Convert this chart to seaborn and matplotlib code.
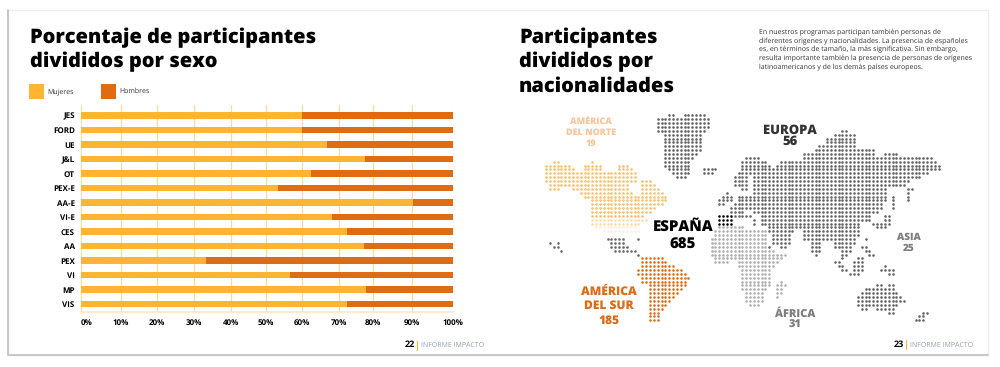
import matplotlib
matplotlib.use('Agg')
import matplotlib.pyplot as plt
from matplotlib import font_manager as fm
from matplotlib.patches import Rectangle
import pandas as pd
import seaborn as sns

# bars
programas = ['JES', 'FORD', 'UE', 'J&L', 'OT', 'PEX-E', 'AA-E', 'VI-E', 'CES', 'AA', 'PEX', 'VI', 'MP', 'VIS']
mujeres = [59.3, 59.3, 66.1, 76.4, 61.7, 53.0, 89.2, 67.5, 71.6, 76.0, 33.5, 56.3, 76.6, 71.5]
hombres = [100 - m for m in mujeres]
tick_labels = ['0%', '10%', '20%', '30%', '40%', '50%', '60%', '70%', '80%', '90%', '100%']
# the printed gridlines are not evenly spaced
tick_values = [0, 10.8, 20.5, 30.4, 40.2, 49.7, 59.3, 69.4, 78.5, 89.0, 100]

# dot map, each run is (row, first column, last column) on the dot grid
groenlandia = [(0, 32, 33), (0, 36, 41), (1, 29, 42), (2, 29, 42), (3, 29, 42), (4, 29, 41), (5, 31, 40), (6, 31, 40),
               (7, 31, 40), (8, 31, 40), (9, 31, 40), (10, 31, 39), (11, 31, 38), (12, 31, 37), (13, 31, 37),
               (14, 32, 37), (14, 41, 44), (15, 33, 37), (15, 41, 43), (16, 34, 36)]
norte = [(12, 2, 3), (12, 12, 12), (13, 0, 6), (13, 10, 14), (13, 19, 21), (14, 0, 7), (14, 10, 14), (14, 19, 22),
         (15, 0, 23), (16, 0, 23), (17, 0, 23), (17, 25, 27), (18, 1, 21), (18, 25, 28), (19, 1, 3), (19, 7, 21),
         (19, 25, 29), (20, 9, 22), (20, 25, 30), (21, 10, 31), (22, 12, 31), (23, 12, 30), (24, 12, 28),
         (25, 12, 27), (26, 12, 25)]
norte_claro = [(27, 12, 26), (28, 12, 24)]
norte_palido = [(29, 13, 23), (30, 15, 24)]
centro = [(32, 16, 20), (32, 24, 24), (33, 17, 20), (34, 17, 21), (35, 18, 23), (36, 24, 24),
          (33, 1, 1), (33, 3, 3), (34, 2, 3), (35, 4, 4)]
sur = [(37, 25, 30), (38, 25, 31), (39, 25, 33), (40, 24, 35), (41, 24, 36), (42, 25, 37), (43, 25, 36), (44, 27, 36),
       (45, 27, 35), (46, 27, 34), (47, 27, 33), (48, 27, 32), (49, 27, 31), (50, 27, 30), (51, 27, 29), (52, 27, 29),
       (53, 27, 29)]
espana = [(26, 45, 48), (27, 45, 48), (28, 45, 48)]
eurasia = [(4, 77, 78), (5, 75, 80), (6, 73, 80), (7, 73, 80), (8, 71, 80), (9, 70, 85), (10, 67, 85), (10, 88, 91),
           (11, 52, 55), (11, 67, 85), (11, 86, 100), (12, 51, 57), (12, 61, 101), (13, 51, 58), (13, 60, 102),
           (14, 51, 59), (14, 60, 102), (15, 50, 53), (15, 54, 59), (15, 60, 99), (16, 49, 52), (16, 54, 97),
           (17, 49, 52), (17, 54, 94), (18, 49, 52), (18, 54, 93), (19, 51, 52), (19, 54, 88), (19, 94, 95),
           (20, 47, 47), (20, 54, 88), (20, 94, 94), (21, 46, 48), (21, 50, 88), (21, 90, 90), (21, 94, 94),
           (22, 45, 48), (22, 50, 88), (22, 90, 90), (22, 94, 94), (23, 45, 46), (23, 49, 87), (23, 90, 90),
           (24, 48, 87), (24, 90, 90), (25, 48, 51), (25, 54, 85), (25, 86, 86), (26, 49, 53), (26, 56, 84),
           (26, 88, 89), (27, 54, 54), (27, 56, 84), (27, 88, 89), (28, 54, 54), (28, 56, 81), (28, 85, 89),
           (29, 58, 81), (29, 86, 88), (30, 58, 64), (30, 67, 81), (31, 59, 63), (31, 67, 81), (32, 59, 63),
           (32, 67, 74), (32, 75, 80), (32, 83, 83), (33, 59, 63), (33, 69, 71), (33, 75, 80), (34, 58, 58),
           (34, 61, 62), (34, 69, 71), (34, 75, 79), (34, 82, 83), (35, 69, 71), (35, 77, 79), (35, 83, 84),
           (36, 70, 70), (36, 77, 78), (36, 84, 85), (37, 77, 77), (37, 81, 82), (38, 75, 76), (38, 80, 82),
           (39, 76, 77), (39, 80, 82), (39, 88, 88), (40, 77, 78), (40, 80, 82), (40, 87, 90), (41, 79, 81),
           (41, 89, 90), (44, 86, 87), (44, 89, 90), (45, 83, 90), (46, 82, 91), (47, 81, 92), (48, 81, 93),
           (49, 81, 91), (50, 82, 83), (50, 86, 90), (51, 89, 90), (51, 98, 99), (52, 97, 98), (53, 96, 98)]
africa = [(29, 45, 51), (30, 44, 57), (31, 44, 57), (32, 43, 57), (33, 43, 57), (34, 43, 57), (35, 43, 59), (36, 43, 62),
          (37, 44, 61), (38, 44, 47), (38, 50, 60), (39, 50, 59), (40, 51, 58), (41, 51, 58), (42, 51, 58),
          (43, 51, 58), (43, 61, 61), (44, 51, 58), (44, 60, 62), (45, 51, 57), (45, 60, 61), (46, 52, 56),
          (46, 60, 61), (47, 52, 56), (47, 60, 60), (48, 52, 56), (49, 53, 55)]

regiones = [(groenlandia, '#5f5f5f'), (norte, '#fdbf63'), (norte_claro, '#fedcaa'), (norte_palido, '#ffeeda'),
            (centro, '#666666'), (sur, '#e06c14'), (espana, '#000000'), (eurasia, '#616161'), (africa, '#adadad')]

NARANJA_CLARO = '#ffb531'
NARANJA = '#df6b12'
W, H = 1000, 367

sns.set_theme(style='white')
plt.rcParams['font.family'] = 'Open Sans'
plt.rcParams['text.hinting'] = 'no_hinting'
plt.rcParams['text.hinting_factor'] = 1


# by file name, asking by weight picks up the condensed cuts
def open_sans(name, size):
    path = next(f.fname for f in fm.fontManager.ttflist if f.fname.endswith('/' + name + '.ttf'))
    return fm.FontProperties(fname=path, size=size)


fig = plt.figure(figsize=(10, 3.67), dpi=100)

# page sheet and all loose text go on an axes in pixel units
page = fig.add_axes([0, 0, 1, 1])
page.set_xlim(0, W)
page.set_ylim(H, 0)
page.axis('off')
page.add_patch(Rectangle((8, 10), 980, 345, fc='white', ec='#ededed', lw=1))
page.plot([8, 8, 988], [10, 355, 355], color='#c4c4c4', lw=1.3)

# stacked bars
ax = fig.add_axes([81 / W, 1 - 311.7 / H, 372 / W, 206.4 / H])
ax.patch.set_alpha(0)
df = pd.DataFrame({'programa': programas, 'mujeres': mujeres, 'total': [m + h for m, h in zip(mujeres, hombres)]})
sns.barplot(data=df, x='total', y='programa', color=NARANJA, saturation=1, width=0.46, linewidth=0, ax=ax, zorder=3)
sns.barplot(data=df, x='mujeres', y='programa', color=NARANJA_CLARO, saturation=1, width=0.46, linewidth=0, ax=ax, zorder=4)
ax.set_xlim(0, 100)
ax.set_ylim(13.53, -0.70)
ax.set_xlabel('')
ax.set_ylabel('')
ax.set_xticks(tick_values)
ax.set_xticklabels(tick_labels, color='black')
ax.tick_params(axis='x', length=0, pad=5.5)
ax.tick_params(axis='y', length=0, pad=4.5)
for label in ax.get_xticklabels() + ax.get_yticklabels():
    label.set_fontproperties(open_sans('OpenSans-Bold', 5.8))
    label.set_color('black')
ax.get_xticklabels()[0].set_ha('left')
ax.grid(axis='x', color='#ffd99b', lw=0.9, zorder=0)
ax.set_axisbelow(True)
sns.despine(ax=ax, left=True, top=True, right=True)
ax.spines['bottom'].set_color('#ffe6c4')
ax.spines['bottom'].set_linewidth(1.2)


def big(x, y, s, size=14.1, color='black', ha='left', name='OpenSans-ExtraBold'):
    page.text(x, y, s, fontproperties=open_sans(name, size), color=color, ha=ha, va='center', zorder=5)


# left page
big(29.5, 38, 'Porcentaje de participantes')
big(29.5, 62, 'divididos por sexo')
page.add_patch(Rectangle((29, 84), 15, 15, fc=NARANJA_CLARO, ec='none'))
page.add_patch(Rectangle((101, 84), 15, 15, fc=NARANJA, ec='none'))
page.text(47, 92, 'Mujeres', fontsize=5.1, color='#333333', va='center')
page.text(119, 91, 'Hombres', fontsize=5.1, color='#333333', va='center')
big(405, 345, '22', 6.5, name='OpenSans-Bold')
page.plot([417, 417], [341, 350], color=NARANJA_CLARO, lw=0.8)
page.text(421, 345.5, 'INFORME IMPACTO', fontsize=4.8, color='#9a9fae', va='center')

# right page
big(519, 38, 'Participantes')
big(519, 62, 'divididos por')
big(519, 87, 'nacionalidades')
parrafo = ['En nuestros programas participan también personas de',
           'diferentes orígenes y nacionalidades. La presencia de españoles',
           'es, en términos de tamaño, la más significativa. Sin embargo,',
           'resulta importante también la presencia de personas de orígenes',
           'latinoamericanos y de los demás países europeos.']
for i, linea in enumerate(parrafo):
    page.text(759, 32.7 + 8.6 * i, linea, fontsize=4.85, color='#333333', va='center')
big(894, 344.5, '23', 6.5, name='OpenSans-Bold')
page.plot([906, 906], [340, 349], color=NARANJA_CLARO, lw=0.8)
page.text(910, 345, 'INFORME IMPACTO', fontsize=4.8, color='#9a9fae', va='center')

# dot map
for runs, color in regiones:
    dots = pd.DataFrame([(c, r) for r, a, b in runs for c in range(a, b + 1)], columns=['col', 'row'])
    dots['x'] = 546 + 3.85 * dots['col']
    dots['y'] = 115.3 + 3.867 * dots['row']
    sns.scatterplot(data=dots, x='x', y='y', color=color, s=3.4, linewidth=0, snap=False, ax=page, legend=False, zorder=2)
page.set_xlabel('')
page.set_ylabel('')

etiquetas = [(591, [122, 133, 143.5], ['AMÉRICA', 'DEL NORTE', '19'], 6.6, '#f8c59b'),
             (790, [130, 141.5], ['EUROPA', '56'], 9.2, '#333333'),
             (683, [227, 245], ['ESPAÑA', '685'], 11.1, '#000000'),
             (609, [291.5, 306, 321], ['AMÉRICA', 'DEL SUR', '185'], 8.9, NARANJA),
             (909, [237, 248], ['ASIA', '25'], 7.4, '#7d7d7d'),
             (795, [314, 325], ['ÁFRICA', '31'], 8, '#7d7d7d')]
for x, ys, lineas, size, color in etiquetas:
    for y, linea in zip(ys, lineas):
        big(x, y, linea, size, color, ha='center')

fig.savefig('out.png', dpi=100)
